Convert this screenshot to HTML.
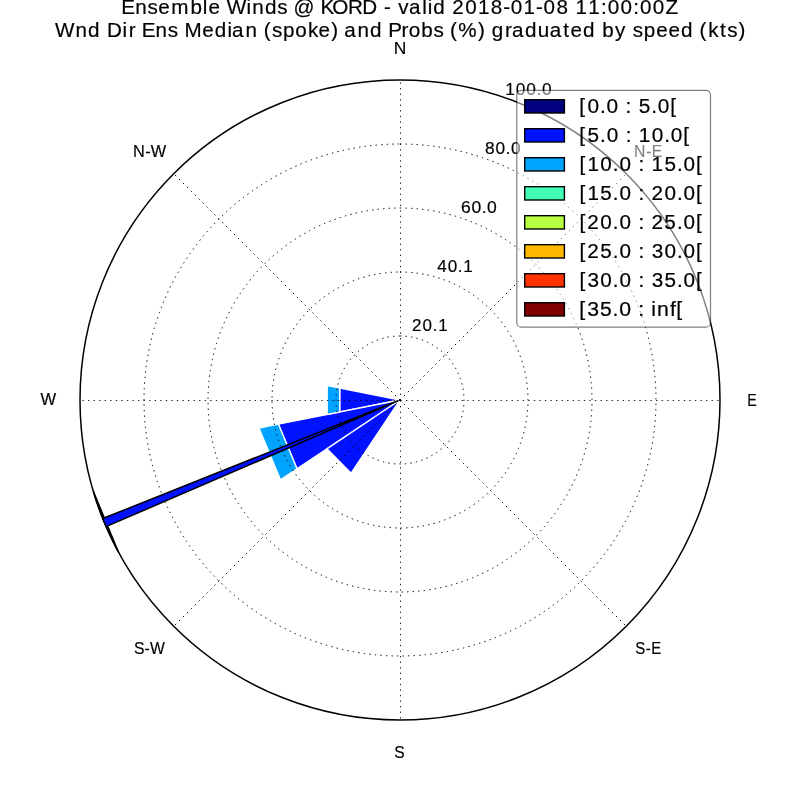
<!DOCTYPE html>
<html><head><meta charset="utf-8"><style>html,body{margin:0;padding:0;background:#fff;width:800px;height:800px;overflow:hidden}svg{display:block}</style></head>
<body><svg width="800" height="800" viewBox="0 0 800 800" font-family="Liberation Sans, sans-serif">
<rect width="800" height="800" fill="#fff"/>
<g stroke="#fff" stroke-width="1.39"><path d="M400.00,400.00 L339.72,411.99 L339.72,388.01 Z" fill="#0012ff"/><path d="M400.00,400.00 L296.98,468.84 L278.48,424.17 Z" fill="#0012ff"/><path d="M400.00,400.00 L351.14,473.13 L326.87,448.86 Z" fill="#0012ff"/><path d="M339.72,411.99 L327.16,414.49 L327.16,385.51 L339.72,388.01 Z" fill="#00a4ff"/><path d="M296.98,468.84 L280.43,479.89 L258.96,428.05 L278.48,424.17 Z" fill="#00a4ff"/></g>
<path d="M118.78,552.69 A320,320 0 0 1 93.18,490.88 Z" fill="#000" stroke="#000" stroke-width="1.39"/>
<g fill="none" stroke="#000" stroke-width="1" stroke-dasharray="1.3889 4.1667"><path d="M400,336 A64,64 0 0 1 464,400 A64,64 0 0 1 400,464 A64,64 0 0 1 336,400 A64,64 0 0 1 400,336"/><path d="M400,272 A128,128 0 0 1 528,400 A128,128 0 0 1 400,528 A128,128 0 0 1 272,400 A128,128 0 0 1 400,272"/><path d="M400,208 A192,192 0 0 1 592,400 A192,192 0 0 1 400,592 A192,192 0 0 1 208,400 A192,192 0 0 1 400,208"/><path d="M400,144 A256,256 0 0 1 656,400 A256,256 0 0 1 400,656 A256,256 0 0 1 144,400 A256,256 0 0 1 400,144"/><path d="M400,400 L626.27,173.73"/><path d="M400,400 L626.27,626.27"/><path d="M400,400 L173.73,626.27"/><path d="M400,400 L173.73,173.73"/><g stroke-width="0.85"><path stroke-dashoffset="0.5" d="M400.5,400 L400.5,80"/><path stroke-dashoffset="-0.45" d="M400.5,400 L400.5,720"/><path stroke-dashoffset="-0.45" d="M400,400.5 L720,400.5"/><path stroke-dashoffset="0.5" d="M400,400.5 L80,400.5"/></g></g>
<circle cx="400" cy="400" r="320" fill="none" stroke="#000" stroke-width="1.5"/>
<path d="M397.98,400.87 L106.10,526.57 L102.76,518.53 L397.96,400.81 Z" fill="#0012ff" stroke="#000" stroke-width="1.5"/>
<g font-family="Liberation Sans" style="font-kerning:none;font-variant-ligatures:none" opacity="0.999" stroke="#000" stroke-width="0.2"><text transform="matrix(1.0080 0 0 1 0 13.75)" font-size="20.495" x="120.34 134.17 146.33 156.96 169.94 188.87 201.25 206.75 218.14 225.00 244.65 250.32 262.78 275.12 285.36 291.18 311.99 317.98 329.59 345.23 359.51 374.31 381.05 387.88 395.14 405.80 418.84 424.38 429.89 441.29 448.72 461.64 474.20 486.96 499.18 506.80 519.36 531.68 539.30 551.96 563.36 570.84 583.50 596.16 602.97 615.63 628.18 634.99 647.65 660.24" y="0" fill="#000">Ensemble Winds @ KORD - valid 2018-01-08 11:00:00Z</text><text transform="matrix(1.0069 0 0 1 0 36.90)" font-size="20.495" x="54.71 74.91 87.38 98.78 106.17 121.73 127.83 134.66 140.68 154.53 166.71 176.96 183.28 200.89 213.18 225.85 230.54 243.74 255.14 262.02 270.04 280.97 293.27 305.87 316.30 329.09 335.92 341.87 355.08 367.55 378.95 385.55 398.75 405.89 418.43 430.54 440.79 447.01 455.17 474.76 481.59 488.37 501.61 508.38 521.43 534.16 545.88 559.44 566.71 579.01 590.40 598.25 610.91 621.16 628.48 639.41 651.78 664.04 676.33 687.73 694.78 703.41 715.15 722.16 733.33" y="0" fill="#000">Wnd Dir Ens Median (spoke) and Probs (%) graduated by speed (kts)</text><text transform="matrix(1.0049 0 0 1 0 53.90)" font-size="17.369" x="391.90" y="0" fill="#000">N</text><text transform="matrix(0.8232 0 0 1 0 405.75)" font-size="17.369" x="907.80" y="0" fill="#000">E</text><text transform="matrix(0.9534 0 0 1 0 404.75)" font-size="17.369" x="42.41" y="0" fill="#000">W</text><text transform="matrix(0.9001 0 0 1 0 757.55)" font-size="17.369" x="438.07" y="0" fill="#000">S</text><text transform="matrix(0.9408 0 0 1 0 156.90)" font-size="17.369" x="141.37 154.36 160.11" y="0" fill="#000">N-W</text><text transform="matrix(0.9056 0 0 1 0 653.75)" font-size="17.369" x="147.89 159.60 165.72" y="0" fill="#000">S-W</text><text transform="matrix(0.8598 0 0 1 0 653.75)" font-size="17.369" x="738.70 750.92 757.41" y="0" fill="#000">S-E</text><text transform="matrix(0.9057 0 0 1 0 156.90)" font-size="17.369" x="700.16 713.59 719.67" y="0" fill="#000">N-E</text><text transform="matrix(0.9788 0 0 1 0 330.90)" font-size="17.369" x="420.82 431.74 442.17 447.70" y="0" fill="#000">20.1</text><text transform="matrix(0.9846 0 0 1 0 271.90)" font-size="17.369" x="444.08 454.65 464.99 470.42" y="0" fill="#000">40.1</text><text transform="matrix(1.0115 0 0 1 0 212.60)" font-size="17.369" x="455.69 466.02 476.17 481.51" y="0" fill="#000">60.0</text><text transform="matrix(0.9974 0 0 1 0 153.55)" font-size="17.369" x="486.27 496.68 506.89 512.28" y="0" fill="#000">80.0</text><text transform="matrix(0.9965 0 0 1 0 94.90)" font-size="17.369" x="506.94 517.57 528.12 538.43 543.94" y="0" fill="#000">100.0</text></g>
<rect x="516.8" y="90.4" width="193.7" height="236.8" rx="4.5" ry="4.5" fill="rgba(255,255,255,0.5)" stroke="rgba(0,0,0,0.5)" stroke-width="1.2"/><rect x="524.7" y="99.70" width="39.7" height="13.3" fill="#000080" stroke="#000" stroke-width="1.39"/><rect x="524.7" y="128.70" width="39.7" height="13.3" fill="#0012ff" stroke="#000" stroke-width="1.39"/><rect x="524.7" y="157.70" width="39.7" height="13.3" fill="#00a4ff" stroke="#000" stroke-width="1.39"/><rect x="524.7" y="186.70" width="39.7" height="13.3" fill="#41ffb6" stroke="#000" stroke-width="1.39"/><rect x="524.7" y="215.70" width="39.7" height="13.3" fill="#b6ff41" stroke="#000" stroke-width="1.39"/><rect x="524.7" y="244.70" width="39.7" height="13.3" fill="#ffb900" stroke="#000" stroke-width="1.39"/><rect x="524.7" y="273.70" width="39.7" height="13.3" fill="#ff3200" stroke="#000" stroke-width="1.39"/><rect x="524.7" y="302.70" width="39.7" height="13.3" fill="#800000" stroke="#000" stroke-width="1.39"/><g font-family="Liberation Sans" style="font-kerning:none;font-variant-ligatures:none" fill="#000" opacity="0.999" stroke="#000" stroke-width="0.2"><text transform="matrix(1.0390 0 0 1 0 112.75)" font-size="20.058" x="557.61 565.44 577.42 583.81 594.97 602.11 607.69 614.72 626.78 633.17 645.12" y="0" fill="#000">[0.0 : 5.0[</text><text transform="matrix(1.0362 0 0 1 0 141.75)" font-size="20.058" x="559.12 566.92 579.02 585.46 596.62 603.85 609.42 616.51 628.93 640.96 647.40 659.39" y="0" fill="#000">[5.0 : 10.0[</text><text transform="matrix(1.0317 0 0 1 0 170.75)" font-size="20.058" x="561.60 569.42 581.88 593.95 600.43 611.58 618.87 624.44 631.60 643.98 656.13 662.60 674.63" y="0" fill="#000">[10.0 : 15.0[</text><text transform="matrix(1.0327 0 0 1 0 199.75)" font-size="20.058" x="561.05 568.85 581.23 593.36 599.83 610.99 618.26 623.83 630.81 643.42 655.48 661.95 673.97" y="0" fill="#000">[15.0 : 20.0[</text><text transform="matrix(1.0337 0 0 1 0 228.75)" font-size="20.058" x="560.50 568.14 580.74 592.79 599.25 610.40 617.66 623.23 630.20 642.72 654.84 661.30 673.31" y="0" fill="#000">[20.0 : 25.0[</text><text transform="matrix(1.0331 0 0 1 0 257.75)" font-size="20.058" x="560.83 568.48 581.01 593.14 599.60 610.76 618.02 623.60 630.85 643.18 655.23 661.69 673.71" y="0" fill="#000">[25.0 : 30.0[</text><text transform="matrix(1.0325 0 0 1 0 286.75)" font-size="20.058" x="561.16 569.10 581.43 593.49 599.96 611.11 618.39 623.96 631.23 643.48 655.62 662.08 674.11" y="0" fill="#000">[30.0 : 35.0[</text><text transform="matrix(1.0588 0 0 1 0 315.75)" font-size="20.058" x="547.10 554.76 566.69 578.57 584.79 595.95 602.81 608.38 615.19 620.48 632.79 638.82" y="0" fill="#000">[35.0 : inf[</text></g>
</svg></body></html>
